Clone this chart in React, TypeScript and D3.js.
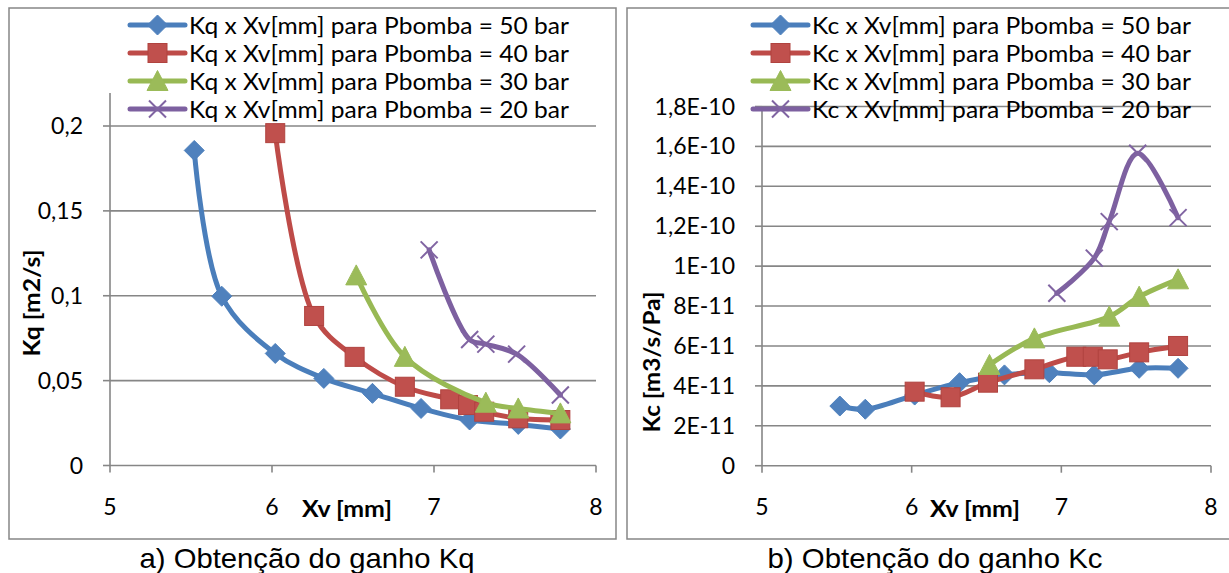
import React from 'react';
import * as d3 from 'd3';

// ---------- data ----------
const xTicks = [5, 6, 7, 8];
const xTickLabels = ['5', '6', '7', '8'];

const kqTicks = [0, 0.05, 0.1, 0.15, 0.2];
const kqTickLabels = ['0', '0,05', '0,1', '0,15', '0,2'];

const kcTicks = [0, 2e-11, 4e-11, 6e-11, 8e-11, 1e-10, 1.2e-10, 1.4e-10, 1.6e-10, 1.8e-10];
const kcTickLabels = ['0', '2E-11', '4E-11', '6E-11', '8E-11', '1E-10', '1,2E-10', '1,4E-10', '1,6E-10', '1,8E-10'];

const pressures = [50, 40, 30, 20];

// Xv [mm] per pump pressure
const xv50 = [5.52, 5.69, 6.02, 6.32, 6.62, 6.92, 7.22, 7.52, 7.78];
const xv40 = [6.02, 6.26, 6.51, 6.82, 7.1, 7.21, 7.31, 7.52, 7.78];
const xv30 = [6.52, 6.82, 7.32, 7.52, 7.78];
const xv20 = [6.97, 7.22, 7.32, 7.51, 7.78];

// Kq [m2/s]
const kq50 = [0.1856, 0.0997, 0.066, 0.0513, 0.0425, 0.0336, 0.0268, 0.0242, 0.0215];
const kq40 = [0.1958, 0.0881, 0.064, 0.0464, 0.039, 0.0356, 0.0317, 0.0278, 0.0268];
const kq30 = [0.112, 0.064, 0.037, 0.0336, 0.0307];
const kq20 = [0.127, 0.0742, 0.0715, 0.0656, 0.0415];

// Kc [m3/s/Pa]
const kc50 = [2.99e-11, 2.83e-11, 3.54e-11, 4.16e-11, 4.55e-11, 4.66e-11, 4.55e-11, 4.88e-11, 4.88e-11];
const kc40 = [3.71e-11, 3.43e-11, 4.16e-11, 4.83e-11, 5.46e-11, 5.46e-11, 5.33e-11, 5.68e-11, 6.0e-11];
const kc30 = [5.05e-11, 6.38e-11, 7.47e-11, 8.47e-11, 9.34e-11];
const kc20 = [8.64e-11, 1.04e-10, 1.223e-10, 1.566e-10, 1.243e-10];

// ---------- styles ----------
type MarkerKind = 'diamond' | 'square' | 'triangle' | 'x';
const seriesStyle: { line: string; fill: string; marker: MarkerKind }[] = [
  { line: '#4A7EBB', fill: '#4F81BD', marker: 'diamond' },
  { line: '#BE4B48', fill: '#C0504D', marker: 'square' },
  { line: '#98B954', fill: '#9BBB59', marker: 'triangle' },
  { line: '#7D60A0', fill: '#8064A2', marker: 'x' },
];

const FONT = 'Lato, Carlito, Calibri, sans-serif';
const GRID = '#868686';

function Marker({ kind, cx, cy, fill }: { kind: MarkerKind; cx: number; cy: number; fill: string }) {
  if (kind === 'diamond') {
    const r = 10;
    return <path d={`M${cx},${cy - r}L${cx + r},${cy}L${cx},${cy + r}L${cx - r},${cy}Z`} fill={fill} stroke={fill} strokeWidth={1} />;
  }
  if (kind === 'square') {
    const s = 19;
    return <rect x={cx - s / 2} y={cy - s / 2} width={s} height={s} fill={fill} stroke="#B0433F" strokeWidth={1} />;
  }
  if (kind === 'triangle') {
    return <path d={`M${cx},${cy - 10.5}L${cx + 10.5},${cy + 9.5}L${cx - 10.5},${cy + 9.5}Z`} fill={fill} stroke={fill} strokeWidth={1} />;
  }
  const r = 8.5;
  return (
    <g stroke={fill} strokeWidth={2}>
      <line x1={cx - r} y1={cy - r} x2={cx + r} y2={cy + r} />
      <line x1={cx - r} y1={cy + r} x2={cx + r} y2={cy - r} />
    </g>
  );
}

type PanelProps = {
  frame: [number, number, number, number];
  plot: { left: number; right: number; bottom: number; top: number; axisTop: number };
  yMax: number;
  yTicks: number[];
  yTickLabels: string[];
  yLabelX: number;
  xs: number[][];
  ys: number[][];
  prefix: string;
  legendX: number;
  legendTextLen: number;
  yTitle: string;
  yTitleX: number;
  yTitleY: number;
  yTitleLen: number;
  xTitleX: number;
  caption: string;
  captionX: number;
};

function Panel(p: PanelProps) {
  const x = d3.scaleLinear().domain([5, 8]).range([p.plot.left, p.plot.right]);
  const y = d3.scaleLinear().domain([0, p.yMax]).range([p.plot.bottom, p.plot.top]);
  const line = d3
    .line<[number, number]>()
    .x((d) => x(d[0]))
    .y((d) => y(d[1]))
    .curve(d3.curveCatmullRom.alpha(0.5));
  const [fx0, fy0, fx1, fy1] = p.frame;
  const legendRows = [25, 53, 81, 109];
  return (
    <g>
      <rect x={fx0} y={fy0} width={fx1 - fx0} height={fy1 - fy0} fill="#fff" stroke={GRID} strokeWidth={1.5} />
      {/* gridlines */}
      {p.yTicks.map((t, i) =>
        t === 0 ? null : (
          <line key={'g' + i} x1={p.plot.left} x2={p.plot.right} y1={y(t)} y2={y(t)} stroke={GRID} strokeWidth={1.6} />
        )
      )}
      {/* axes */}
      <line x1={p.plot.left} x2={p.plot.left} y1={p.plot.axisTop} y2={y(0)} stroke={GRID} strokeWidth={1.6} />
      <line x1={p.plot.left} x2={p.plot.right} y1={y(0)} y2={y(0)} stroke={GRID} strokeWidth={1.6} />
      {p.yTicks.map((t, i) => (
        <g key={'yt' + i}>
          <line x1={p.plot.left - 7} x2={p.plot.left} y1={y(t)} y2={y(t)} stroke={GRID} strokeWidth={1.6} />
          <text x={p.yLabelX} y={y(t) + 8} textAnchor="end" fontFamily={FONT} fontSize={23} fill="#000">
            {p.yTickLabels[i]}
          </text>
        </g>
      ))}
      {xTicks.map((t, i) => (
        <g key={'xt' + i}>
          <line x1={x(t)} x2={x(t)} y1={y(0)} y2={y(0) + 7} stroke={GRID} strokeWidth={1.6} />
          <text x={x(t)} y={515} textAnchor="middle" fontFamily={FONT} fontSize={23} fill="#000">
            {xTickLabels[i]}
          </text>
        </g>
      ))}
      {/* titles */}
      <text x={p.xTitleX} y={517} textAnchor="middle" fontFamily={FONT} fontWeight="bold" fontSize={22} textLength={90} lengthAdjust="spacingAndGlyphs">
        Xv [mm]
      </text>
      <text
        transform={`translate(${p.yTitleX},${p.yTitleY}) rotate(-90)`}
        textAnchor="middle"
        fontFamily={FONT}
        fontWeight="bold"
        fontSize={22}
        textLength={p.yTitleLen}
        lengthAdjust="spacingAndGlyphs"
      >
        {p.yTitle}
      </text>
      {/* series */}
      {p.xs.map((xsArr, si) => {
        const pts: [number, number][] = xsArr.map((xv, k) => [xv, p.ys[si][k]]);
        const st = seriesStyle[si];
        return (
          <g key={'s' + si}>
            <path d={line(pts) || ''} fill="none" stroke={st.line} strokeWidth={5} strokeLinejoin="round" strokeLinecap="round" />
            {pts.map((d, k) => (
              <Marker key={k} kind={st.marker} cx={x(d[0])} cy={y(d[1])} fill={st.fill} />
            ))}
          </g>
        );
      })}
      {/* legend */}
      {pressures.map((pr, i) => {
        const st = seriesStyle[i];
        const ly = legendRows[i];
        return (
          <g key={'l' + i}>
            <line x1={p.legendX} x2={p.legendX + 55} y1={ly} y2={ly} stroke={st.line} strokeWidth={5} strokeLinecap="round" />
            <Marker kind={st.marker} cx={p.legendX + 27.5} cy={ly} fill={st.fill} />
            <text x={p.legendX + 59} y={ly + 8.5} fontFamily={FONT} fontSize={23} textLength={p.legendTextLen} lengthAdjust="spacingAndGlyphs">
              {`${p.prefix} x Xv[mm] para Pbomba = ${pr} bar`}
            </text>
          </g>
        );
      })}
      {/* caption */}
      <text x={p.captionX} y={568} textAnchor="middle" fontFamily="'Liberation Sans', Arial, Helvetica, sans-serif" fontSize={28} textLength={335} lengthAdjust="spacingAndGlyphs">
        {p.caption}
      </text>
    </g>
  );
}

export default function App() {
  return (
    <div style={{ position: 'fixed', left: 0, top: 0, width: 1229, height: 573, background: '#fff' }}>
      <svg width={1229} height={573} viewBox="0 0 1229 573" style={{ display: 'block' }}>
        <rect x={0} y={0} width={1229} height={573} fill="#fff" />
        <Panel
          frame={[9, 8, 616, 539]}
          plot={{ left: 110, right: 596, bottom: 465.5, top: 126, axisTop: 93 }}
          yMax={0.2}
          yTicks={kqTicks}
          yTickLabels={kqTickLabels}
          yLabelX={83}
          xs={[xv50, xv40, xv30, xv20]}
          ys={[kq50, kq40, kq30, kq20]}
          prefix="Kq"
          legendX={130}
          legendTextLen={380}
          yTitle="Kq [m2/s]"
          yTitleX={40}
          yTitleY={303}
          yTitleLen={107}
          xTitleX={347}
          caption="a) Obtenção do ganho Kq"
          captionX={307}
        />
        <Panel
          frame={[627, 8, 1230, 539]}
          plot={{ left: 762, right: 1211, bottom: 465.7, top: 106.5, axisTop: 106.5 }}
          yMax={1.8e-10}
          yTicks={kcTicks}
          yTickLabels={kcTickLabels}
          yLabelX={735}
          xs={[xv50, xv40, xv30, xv20]}
          ys={[kc50, kc40, kc30, kc20]}
          prefix="Kc"
          legendX={753}
          legendTextLen={379}
          yTitle="Kc [m3/s/Pa]"
          yTitleX={660}
          yTitleY={362}
          yTitleLen={141}
          xTitleX={975}
          caption="b) Obtenção do ganho Kc"
          captionX={935}
        />
      </svg>
    </div>
  );
}
